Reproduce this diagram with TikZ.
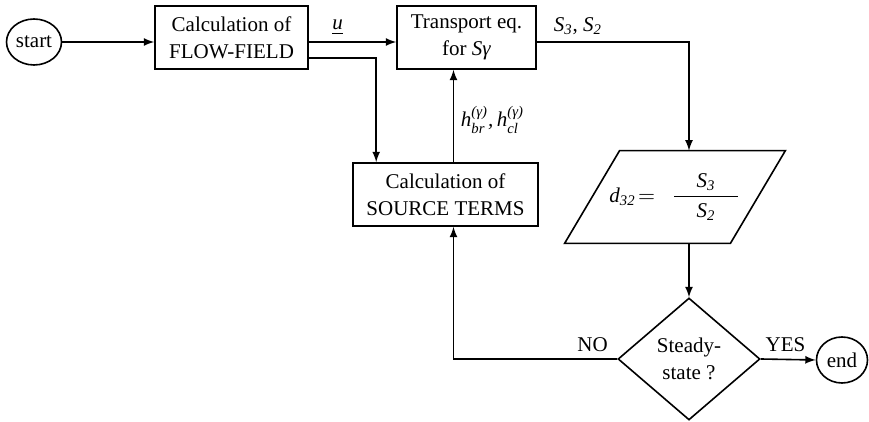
\documentclass[tikz,border=0pt]{standalone}
\usepackage{amsmath}
\usepackage{fontspec}
\setmainfont{Liberation Serif}
\usetikzlibrary{arrows,shapes,calc,positioning}

\tikzset{
  blocco/.style={draw,rectangle,line width=0.8pt,inner sep=0pt,align=center,minimum height=31.5pt},
  terminale/.style={draw,ellipse,line width=0.8pt,inner sep=0pt,minimum width=27.5pt,minimum height=23pt},
  freccia/.style={-latex,line width=0.8pt},
}

\begin{document}
\begin{tikzpicture}[x=0.5pt,y=0.5pt,font=\fontsize{10.5}{13.5}\selectfont]
\useasboundingbox (0,0) rectangle (869,422);

%blocchi
\node[terminale] at (34,380) (start) {start};
\node[blocco,minimum width=76.5pt] at (231.5,384.5) (flow) {Calculation of\\FLOW-FIELD};
\node[blocco,minimum width=69.5pt] at (466.5,384.5) (transp) {Transport eq.\\for \textit{Sγ}};
\node[blocco,minimum width=92.5pt] at (445.5,227.5) (source) {Calculation of\\SOURCE TERMS};
\node[minimum width=82.5pt,minimum height=46pt,inner sep=0pt] at (675,225) (d32)
      {$\textit{d}_{\textit{32}}\!=\ \ \dfrac{\makebox[32pt]{$\textit{S}_{\textit{3}}$}}{\makebox[32pt]{$\textit{S}_{\textit{2}}$}}$};
\draw[line width=0.8pt] ($(d32.north west)+(27.5,0)$) -- ($(d32.north east)+(27.5,0)$)
      -- ($(d32.south east)+(-27.5,0)$) -- ($(d32.south west)+(-27.5,0)$) -- cycle;
\node[draw,diamond,minimum width=71pt,minimum height=61pt,inner sep=0pt,
      line width=0.8pt,align=center] at (689,63) (steady) {Steady-\\state ?};
\node[terminale,minimum width=25.5pt] at (842,62) (end) {end};

\coordinate (h) at (453.5,0);

%frecce
\draw[freccia] (start) -- (flow.west |- start);
\draw[freccia] (flow.east |- start) -- node[above,pos=0.33]{\underline{\textit{u}}} (transp.west |- start);
\draw[freccia] ($(flow.south east)+(0,12)$) -| ($(source.north west)+(24,0)$);
\draw[freccia] (h |- source.north) -- node[right,pos=0.46]{$\textit{h}^{\textit{(γ)}}_{\textit{br}}\textit{,}\,\textit{h}^{\textit{(γ)}}_{\textit{cl}}$} (h |- transp.south);
\draw[freccia] (transp.east |- start) -- node[above,pos=0.27]{$\textit{S}_{\textit{3}}$, $\textit{S}_{\textit{2}}$} (steady |- start) -- (steady |- d32.north);
\draw[freccia] (steady |- d32.south) -- (steady.north);
\draw[freccia] (steady.west) -- node[above,pos=0.15]{NO} (h |- steady) -- (h |- source.south);
\draw[freccia] (steady.east) -- node[above,pos=0.45]{YES} (end.west);
\end{tikzpicture}
\end{document}
